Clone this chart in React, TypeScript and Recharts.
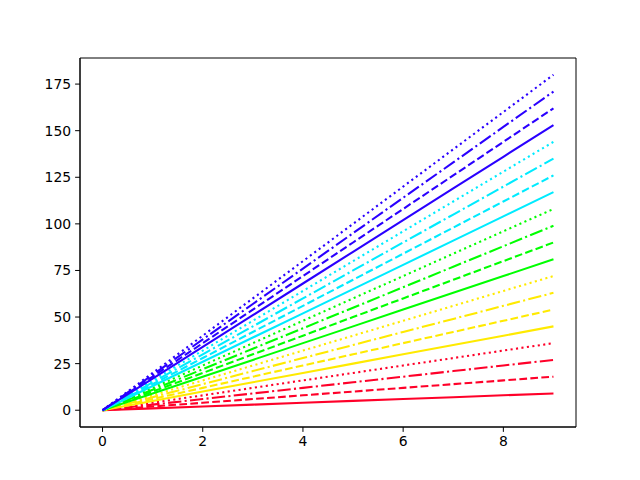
import { LineChart, Line, XAxis, YAxis, ReferenceArea } from "recharts";

// x positions
const xs = [0, 1, 2, 3, 4, 5, 6, 7, 8, 9];

// one row per line, bottom (shallowest) to top (steepest)
const lineValues: number[][] = [
  [0, 1, 2, 3, 4, 5, 6, 7, 8, 9],
  [0, 2, 4, 6, 8, 10, 12, 14, 16, 18],
  [0, 3, 6, 9, 12, 15, 18, 21, 24, 27],
  [0, 4, 8, 12, 16, 20, 24, 28, 32, 36],
  [0, 5, 10, 15, 20, 25, 30, 35, 40, 45],
  [0, 6, 12, 18, 24, 30, 36, 42, 48, 54],
  [0, 7, 14, 21, 28, 35, 42, 49, 56, 63],
  [0, 8, 16, 24, 32, 40, 48, 56, 64, 72],
  [0, 9, 18, 27, 36, 45, 54, 63, 72, 81],
  [0, 10, 20, 30, 40, 50, 60, 70, 80, 90],
  [0, 11, 22, 33, 44, 55, 66, 77, 88, 99],
  [0, 12, 24, 36, 48, 60, 72, 84, 96, 108],
  [0, 13, 26, 39, 52, 65, 78, 91, 104, 117],
  [0, 14, 28, 42, 56, 70, 84, 98, 112, 126],
  [0, 15, 30, 45, 60, 75, 90, 105, 120, 135],
  [0, 16, 32, 48, 64, 80, 96, 112, 128, 144],
  [0, 17, 34, 51, 68, 85, 102, 119, 136, 153],
  [0, 18, 36, 54, 72, 90, 108, 126, 144, 162],
  [0, 19, 38, 57, 76, 95, 114, 133, 152, 171],
  [0, 20, 40, 60, 80, 100, 120, 140, 160, 180],
];

// one colour per group of four lines
const groupColors = ["#ff0029", "#ffea00", "#00ff00", "#00ebff", "#2a00ff"];
// solid, dashed, dashdot, dotted
const dashPatterns = [undefined, "7.7 3.3", "13.3 3.3 2.1 3.3", "2.1 3.4"];

const xTicks = [0, 2, 4, 6, 8];
const yTicks = [0, 25, 50, 75, 100, 125, 150, 175];
const xDomain: [number, number] = [-0.45, 9.45];
const yDomain: [number, number] = [-9, 189];

const data = xs.map((x, i) => {
  const row: Record<string, number> = { x };
  lineValues.forEach((vals, k) => { row[`s${k}`] = vals[i]; });
  return row;
});

const tickStyle = { fontSize: 13.9, fill: "#000", fontFamily: "DejaVu Sans" };

export default function App() {
  return (
    <div style={{ position: "absolute", left: 0, top: 0, width: 640, height: 480, background: "#fff" }}>
      <LineChart width={640} height={480} data={data}
        margin={{ top: 58, right: 64, left: 40, bottom: 23 }}>
        <XAxis dataKey="x" type="number" domain={xDomain} ticks={xTicks} allowDataOverflow
          height={30} tick={tickStyle} tickSize={4.9} tickMargin={4}
          axisLine={{ stroke: "#000", strokeWidth: 1 }} tickLine={{ stroke: "#000" }} />
        <YAxis type="number" domain={yDomain} ticks={yTicks} allowDataOverflow
          width={40} tick={tickStyle} tickSize={4.9} tickMargin={4}
          axisLine={{ stroke: "#000", strokeWidth: 1 }} tickLine={{ stroke: "#000" }} />
        {/* full frame like matplotlib spines */}
        <ReferenceArea x1={xDomain[0]} x2={xDomain[1]} y1={yDomain[0]} y2={yDomain[1]}
          fill="none" fillOpacity={0} stroke="#000" strokeWidth={1} strokeOpacity={1} />
        {lineValues.map((_, k) => (
          <Line key={k} type="linear" dataKey={`s${k}`} dot={false} activeDot={false}
            stroke={groupColors[Math.floor(k / 4)]} strokeWidth={2.08}
            strokeDasharray={dashPatterns[k % 4]} isAnimationActive={false} />
        ))}
      </LineChart>
    </div>
  );
}
